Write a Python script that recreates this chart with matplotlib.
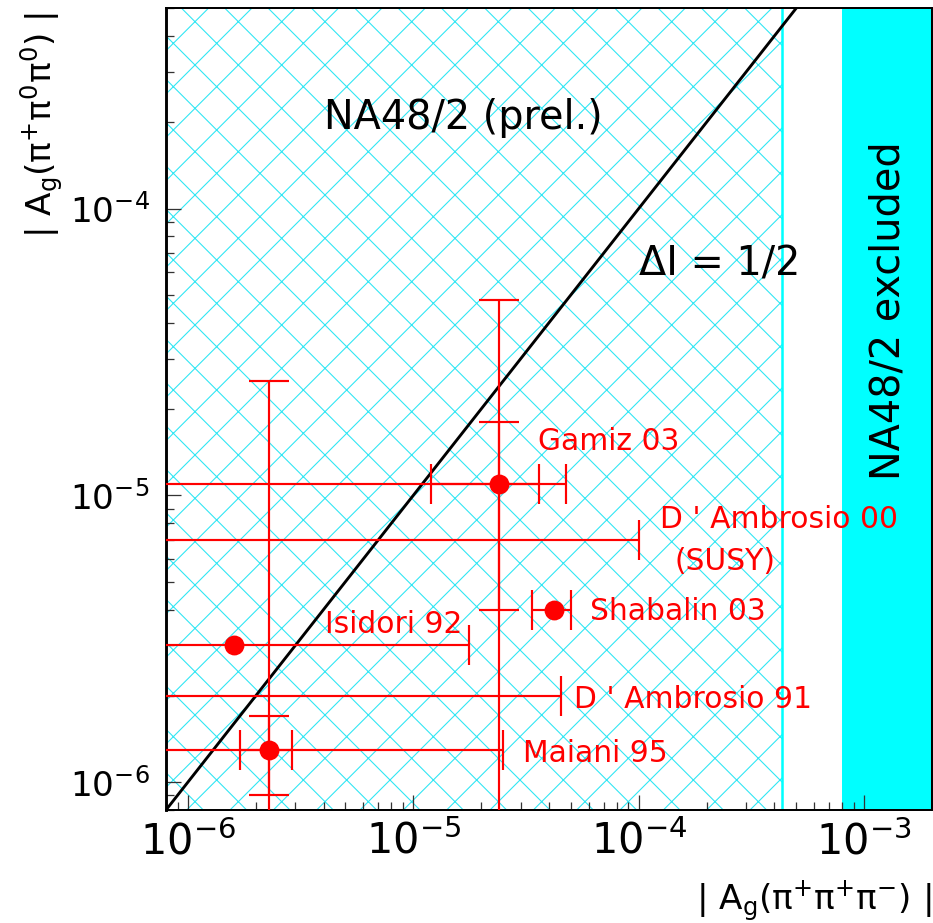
import numpy as np
import matplotlib.pyplot as plt

# axis ranges
x_range = (8e-7, 2e-3)
y_range = (8e-7, 5e-4)

# NA48/2 regions along |Ag(+ + -)|
hatch_hi = 4.3e-4        # upper end of the hatched (allowed) band
excluded_lo = 8.0e-4     # start of the excluded band

# Delta I = 1/2 line: |Ag(+00)| = |Ag(++-)|
diag = np.array([1e-7, 1e-2])

# predictions with a central value
pt_names = ["Gamiz 03", "Shabalin 03", "Isidori 92", "Maiani 95"]
pt_x = np.array([2.4e-5, 4.2e-5, 1.6e-6, 2.3e-6])
pt_y = np.array([1.1e-5, 4.0e-6, 3.0e-6, 1.3e-6])
# outer horizontal range (1e-8 = off scale)
pt_xlo = np.array([1e-8, 3.37e-5, 1e-8, 1e-8])
pt_xhi = np.array([4.75e-5, 5.0e-5, 1.76e-5, 2.5e-5])

# Gamiz 03 and Maiani 95 have a second (inner) set of errors
two_x = np.array([2.4e-5, 2.3e-6])
two_y = np.array([1.1e-5, 1.3e-6])
in_xlo = np.array([1.2e-5, 1.7e-6])
in_xhi = np.array([3.6e-5, 2.9e-6])
in_ylo = np.array([4.0e-6, 9.0e-7])
in_yhi = np.array([1.8e-5, 1.7e-6])
out_ylo = np.array([1e-8, 1e-8])
out_yhi = np.array([4.8e-5, 2.5e-5])

# upper bounds only
lim_names = ["D ' Ambrosio 00", "D ' Ambrosio 91"]
lim_y = np.array([7.0e-6, 2.0e-6])
lim_xhi = np.array([1.0e-4, 4.5e-5])
lim_xlo = np.array([1e-8, 1e-8])

DPI = 130
plt.rcParams['hatch.linewidth'] = 0.6
plt.rcParams['font.family'] = 'DejaVu Sans'

fig = plt.figure(figsize=(933 / DPI, 923 / DPI), dpi=DPI)
ax = fig.add_axes([0.1779, 0.1224, 0.8211, 0.8689])
ax.set_xscale('log')
ax.set_yscale('log')
ax.set_xlim(*x_range)
ax.set_ylim(*y_range)

red = '#ff0000'
cyan = '#00ffff'

ax.axvspan(x_range[0], hatch_hi, facecolor='none', edgecolor='#2ee6f4',
           hatch='x', linewidth=0, zorder=0)
ax.axvline(hatch_hi, color=cyan, lw=1.4, zorder=1)
ax.axvspan(excluded_lo, x_range[1], facecolor=cyan, edgecolor='none', zorder=1)

ax.plot(diag, diag, color='black', lw=1.6, zorder=2)

eb = dict(fmt='none', ecolor=red, elinewidth=1.2, capsize=11, capthick=1.2, zorder=3)
ax.errorbar(pt_x, pt_y, xerr=[pt_x - pt_xlo, pt_xhi - pt_x], **eb)
ax.errorbar(two_x, two_y, xerr=[two_x - in_xlo, in_xhi - two_x], **eb)
ax.errorbar(two_x, two_y, yerr=[two_y - out_ylo, out_yhi - two_y], **eb)
ax.errorbar(two_x, two_y, yerr=[two_y - in_ylo, in_yhi - two_y], **eb)
ax.errorbar(lim_xhi, lim_y, xerr=[lim_xhi - lim_xlo, np.zeros(2)], **eb)
ax.plot(pt_x, pt_y, 'o', color=red, ms=10, zorder=4)

lab = dict(color=red, fontsize=16.5, transform=ax.transAxes, va='center', ha='left')
ax.text(0.486, 0.459, pt_names[0], **lab)
ax.text(0.645, 0.362, lim_names[0], **lab)
ax.text(0.664, 0.310, "(SUSY)", **lab)
ax.text(0.554, 0.247, pt_names[1], **lab)
ax.text(0.208, 0.231, pt_names[2], **lab)
ax.text(0.533, 0.138, lim_names[1], **lab)
ax.text(0.466, 0.071, pt_names[3], **lab)

ax.text(0.388, 0.863, "NA48/2 (prel.)", fontsize=22, transform=ax.transAxes,
        ha='center', va='center')
ax.text(0.723, 0.680, "\u0394I = 1/2", fontsize=22, transform=ax.transAxes,
        ha='center', va='center')
ax.text(0.943, 0.623, "NA48/2 excluded", fontsize=22, rotation=90,
        transform=ax.transAxes, ha='center', va='center')

ax.tick_params(which='both', direction='in', top=False, right=False, color='#333333')
ax.tick_params(which='major', length=8.3, width=0.7)
ax.tick_params(which='minor', length=4.4, width=0.7)
ax.tick_params(axis='x', labelsize=23, pad=6)
ax.tick_params(axis='y', labelsize=19, pad=9)
for s in ax.spines.values():
    s.set_linewidth(1.1)
ax.spines['left'].set_linewidth(1.6)

ax.set_xlabel(r'$\mathregular{|\ A_g(\pi^{+}\pi^{+}\pi^{-})\ |}$', fontsize=19, loc='right')
ax.set_ylabel(r'$\mathregular{|\ A_g(\pi^{+}\pi^{0}\pi^{0})\ |}$', fontsize=19, loc='top')
ax.xaxis.set_label_coords(1.0, -0.085)
ax.yaxis.set_label_coords(-0.132, 0.995)

fig.savefig('out.png', dpi=DPI)
